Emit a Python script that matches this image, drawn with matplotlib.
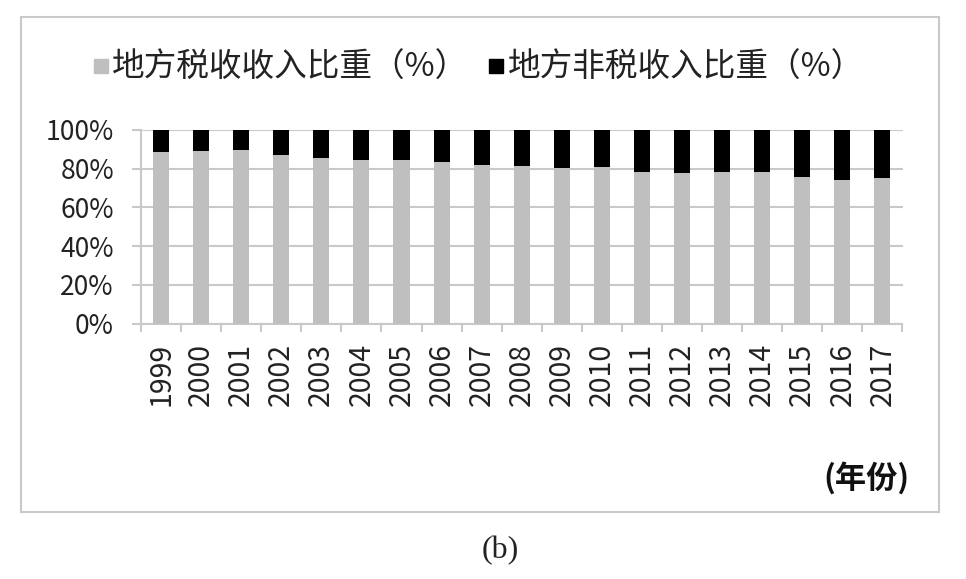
import matplotlib
matplotlib.use("Agg")
import matplotlib.pyplot as plt
import numpy as np
from matplotlib.lines import Line2D
from matplotlib.patches import Rectangle
from matplotlib.ticker import FixedLocator, FuncFormatter

plt.rcParams["font.family"] = ["Noto Sans CJK SC", "DejaVu Sans"]

years = [str(y) for y in range(1999, 2018)]
# 地方税收收入比重 (%)
tax_share = [88.6, 89.1, 89.6, 87.0, 85.5, 84.4, 84.4, 83.4, 82.1, 81.4,
             80.2, 80.9, 78.3, 77.8, 78.3, 78.3, 75.7, 74.2, 75.2]
# 地方非税收入比重 (%)
nontax_share = [11.4, 10.9, 10.4, 13.0, 14.5, 15.6, 15.6, 16.6, 17.9, 18.6,
                19.8, 19.1, 21.7, 22.2, 21.7, 21.7, 24.3, 25.8, 24.8]
y_ticks = [0, 20, 40, 60, 80, 100]
series_names = ["地方税收收入比重（%）", "地方非税收入比重（%）"]

GREY = "#BFBFBF"
LINE = "#C9C9C9"

fig = plt.figure(figsize=(9.66, 5.79), dpi=100)
ax = fig.add_axes([141 / 966, 1 - 323.5 / 579, (902.5 - 141) / 966, (323.5 - 130) / 579])

x = np.arange(len(years))
ax.bar(x, tax_share, width=0.4, color=GREY, zorder=3)
ax.bar(x, nontax_share, width=0.4, bottom=tax_share, color="black", zorder=3)

ax.set_xlim(-0.5, len(years) - 0.5)
ax.set_ylim(0, 100)

ax.yaxis.set_major_locator(FixedLocator(y_ticks))
ax.yaxis.set_major_formatter(FuncFormatter(lambda v, p: f"{v:.0f}%"))
ax.grid(axis="y", color=LINE, linewidth=1.5, zorder=0)
ax.tick_params(axis="y", length=6.5, width=1.5, color=LINE, pad=13,
               labelsize=19, labelcolor="#222222")

ax.set_xticks(x)
ax.set_xticklabels(years, rotation=90, fontsize=20.5, color="#222222")
ax.set_xticks(np.arange(-0.5, len(years)), minor=True)
ax.tick_params(axis="x", which="major", length=0, pad=14)
ax.tick_params(axis="x", which="minor", length=6, width=1.5, color=LINE)

for side in ["top", "right"]:
    ax.spines[side].set_visible(False)
for side in ["left", "bottom"]:
    ax.spines[side].set_color(LINE)
    ax.spines[side].set_linewidth(1.5)

handles = [
    Line2D([], [], marker="s", linestyle="none", markersize=10, color=GREY),
    Line2D([], [], marker="s", linestyle="none", markersize=10, color="black"),
]
fig.legend(handles, series_names, loc="center", bbox_to_anchor=(0.495, 1 - 68 / 579),
           ncol=2, frameon=False, fontsize=23.5, handlelength=0.5, handletextpad=0.1,
           columnspacing=0.6, labelcolor="#222222")

fig.text(909 / 966, 1 - 478 / 579, "(年份)", fontsize=22.5, fontweight="bold",
         ha="right", va="center", color="#111111")

# outer chart border
fig.patches.append(Rectangle((21 / 966, 1 - 512 / 579), (939 - 21) / 966, (512 - 17) / 579,
                             transform=fig.transFigure, fill=False,
                             edgecolor=LINE, linewidth=1.5))

fig.text(500 / 966, 1 - 551 / 579, "(b)", fontsize=23, family="Liberation Serif",
         ha="center", va="center", color="#222222")

fig.savefig("out.png", dpi=100, facecolor="white")
